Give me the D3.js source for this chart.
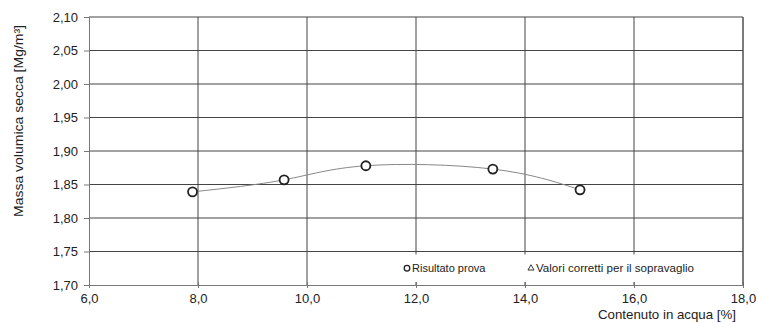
<!DOCTYPE html>
<html>
<head>
<meta charset="utf-8">
<script src="https://cdn.jsdelivr.net/npm/d3@7"></script>
<style>
  body { margin: 0; background: #fff; }
  svg { font-family: "Liberation Sans", Arial, sans-serif; }
</style>
</head>
<body>
<div id="chart"></div>
<script>
// valori
const waterContent = [7.90, 9.58, 11.08, 13.41, 15.01];
const dryDensity = [1.839, 1.857, 1.878, 1.873, 1.842];
const xTicks = [6, 8, 10, 12, 14, 16, 18];
const yTicks = [1.70, 1.75, 1.80, 1.85, 1.90, 1.95, 2.00, 2.05, 2.10];
const legendLabels = ['Risultato prova', 'Valori corretti per il sopravaglio'];

const svgWidth = 757, svgHeight = 323,
    margin = {top: 17, right: 14, bottom: 38, left: 89},
    width = svgWidth - margin.left - margin.right,
    height = svgHeight - margin.top - margin.bottom;

const svg = d3.select('#chart').append('svg')
    .attr('width', svgWidth)
    .attr('height', svgHeight);

const x = d3.scaleLinear().domain([6, 18]).range([0, width]),
    y = d3.scaleLinear().domain([1.70, 2.10]).range([height, 0]);

const g = svg.append('g')
    .attr('transform', 'translate(' + margin.left + ',' + margin.top + ')');

const fmt = d3.format('.2f'), fmtX = d3.format('.1f');
const comma = s => s.replace('.', ',');

// griglia
g.selectAll('.hgrid').data(yTicks.slice(1)).enter().append('line')
    .attr('x1', 0).attr('x2', width)
    .attr('y1', d => y(d)).attr('y2', d => y(d))
    .attr('stroke', '#444').attr('stroke-width', 1);

g.selectAll('.vgrid').data(xTicks.slice(1)).enter().append('line')
    .attr('x1', d => x(d)).attr('x2', d => x(d))
    .attr('y1', 0).attr('y2', height)
    .attr('stroke', '#444').attr('stroke-width', 1);

// riquadro legenda (copre la griglia)
const legX = 309, legY = y(1.75) + 3, legH = height - y(1.75) - 6;
g.append('rect')
    .attr('x', legX).attr('y', legY)
    .attr('width', width - legX - 1).attr('height', legH)
    .attr('fill', '#fff');

// assi
g.append('g')
    .attr('transform', `translate(0, ${height})`)
    .call(d3.axisBottom(x).tickValues(xTicks).tickSize(3).tickFormat(d => comma(fmtX(d))))
    .call(a => a.select('.domain').attr('stroke', '#777'))
    .call(a => a.selectAll('.tick line').attr('stroke', '#777').attr('y1', -3))
    .call(a => a.selectAll('text').attr('font-size', 13).attr('fill', '#222').attr('y', 5).attr('dy', '1em'));

g.append('g')
    .call(d3.axisLeft(y).tickValues(yTicks).tickSize(5).tickFormat(d => comma(fmt(d))))
    .call(a => a.select('.domain').attr('stroke', '#777'))
    .call(a => a.selectAll('.tick line').attr('stroke', '#777'))
    .call(a => a.selectAll('text').attr('font-size', 13).attr('fill', '#222').attr('x', -11));

g.append('line')
    .attr('x1', width).attr('x2', width).attr('y1', 0).attr('y2', height)
    .attr('stroke', '#555');

// curva
const data = waterContent.map((w, i) => ({w: w, d: dryDensity[i]}));
g.append('path')
    .datum(data)
    .attr('fill', 'none')
    .attr('stroke', '#888')
    .attr('stroke-width', 1)
    .attr('d', d3.line().x(d => x(d.w)).y(d => y(d.d)).curve(d3.curveNatural));

g.selectAll('.pt').data(data).enter().append('circle')
    .attr('cx', d => x(d.w)).attr('cy', d => y(d.d))
    .attr('r', 4.5)
    .attr('fill', '#fff').attr('stroke', '#222').attr('stroke-width', 1.8);

// legenda
const ly = legY + legH / 2;
g.append('circle').attr('cx', 318).attr('cy', ly).attr('r', 2.8)
    .attr('fill', 'none').attr('stroke', '#222').attr('stroke-width', 1.3);
g.append('text').attr('x', 323).attr('y', ly).attr('dy', '0.35em')
    .attr('font-size', 11).attr('fill', '#222').text(legendLabels[0]);
g.append('path')
    .attr('d', d3.symbol().type(d3.symbolTriangle).size(16)())
    .attr('transform', `translate(442, ${ly})`)
    .attr('fill', 'none').attr('stroke', '#222').attr('stroke-width', 0.9);
g.append('text').attr('x', 447).attr('y', ly).attr('dy', '0.35em')
    .attr('font-size', 11).attr('fill', '#222')
    .attr('textLength', 158).attr('lengthAdjust', 'spacingAndGlyphs')
    .text(legendLabels[1]);

// titoli assi
svg.append('text')
    .attr('x', 736).attr('y', 319)
    .attr('text-anchor', 'end')
    .attr('font-size', 13).attr('fill', '#222')
    .attr('textLength', 138).attr('lengthAdjust', 'spacingAndGlyphs')
    .text('Contenuto in acqua [%]');

svg.append('text')
    .attr('transform', 'translate(23, 121) rotate(-90)')
    .attr('text-anchor', 'middle')
    .attr('font-size', 13).attr('fill', '#222')
    .attr('textLength', 192).attr('lengthAdjust', 'spacingAndGlyphs')
    .text('Massa volumica secca [Mg/m³]');
</script>
</body>
</html>
